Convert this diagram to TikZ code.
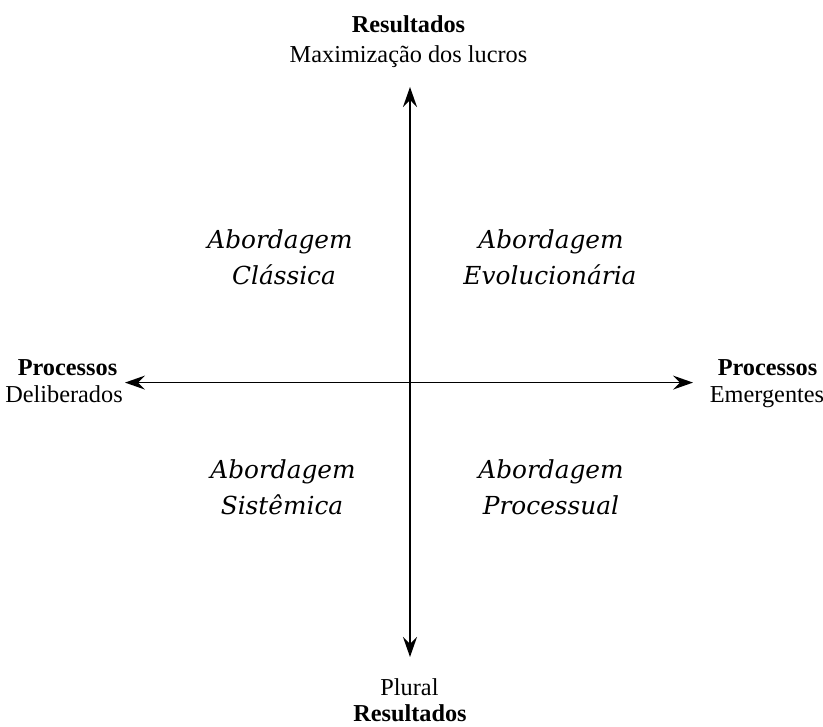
\documentclass[tikz,border=0pt]{standalone}
\usepackage{fontspec}
\setmainfont{Liberation Serif}
\newfontfamily\quadfont{DejaVu Serif}
\usetikzlibrary{arrows.meta}

\tikzset{
    axisarrow/.style={line width=1.6pt,
        {Stealth[length=20pt,width=14pt,inset=7pt]}-{Stealth[length=20pt,width=14pt,inset=7pt]}},
    headline/.style={font=\fontsize{24.3}{29}\selectfont\bfseries, anchor=base, inner sep=0pt},
    subline/.style={font=\fontsize{24.3}{29}\selectfont, anchor=base, inner sep=0pt},
    quadline/.style={font=\fontsize{24.8}{29}\selectfont\quadfont\itshape, anchor=base, inner sep=0pt},
}

\begin{document}
\begin{tikzpicture}[x=1pt, y=1pt]
    \useasboundingbox (0,0) rectangle (823,727);

    % Axis ends
    \coordinate (axTop) at (410,640);
    \coordinate (axBottom) at (410,70);
    \coordinate (axLeft) at (125,344.4);
    \coordinate (axRight) at (693,344.4);

    % Axes
    \draw[axisarrow] (axBottom) -- (axTop);
    \draw[axisarrow] (axLeft) -- (axRight);

    % Top label
    \node[headline] (topHead) at (408.5,694) {Resultados};
    \node[subline] (topSub) at (408.5,664) {Maximização dos lucros};

    % Bottom label
    \node[subline] (bottomSub) at (409.5,31.5) {Plural};
    \node[headline] (bottomHead) at (410,5.5) {Resultados};

    % Left label
    \node[headline] (leftHead) at (67.5,351) {Processos};
    \node[subline] (leftSub) at (64,324) {Deliberados};

    % Right label
    \node[headline] (rightHead) at (767.5,351) {Processos};
    \node[subline] (rightSub) at (767,324) {Emergentes};

    % Quadrants
    \node[quadline] (classA) at (280,478) {Abordagem};
    \node[quadline] (classB) at (284,442) {Clássica};

    \node[quadline] (evolA) at (551,478) {Abordagem};
    \node[quadline] (evolB) at (550,442) {Evolucionária};

    \node[quadline] (sistA) at (283,248) {Abordagem};
    \node[quadline] (sistB) at (282,212) {Sistêmica};

    \node[quadline] (procA) at (551,248) {Abordagem};
    \node[quadline] (procB) at (551,212) {Processual};

\end{tikzpicture}
\end{document}
